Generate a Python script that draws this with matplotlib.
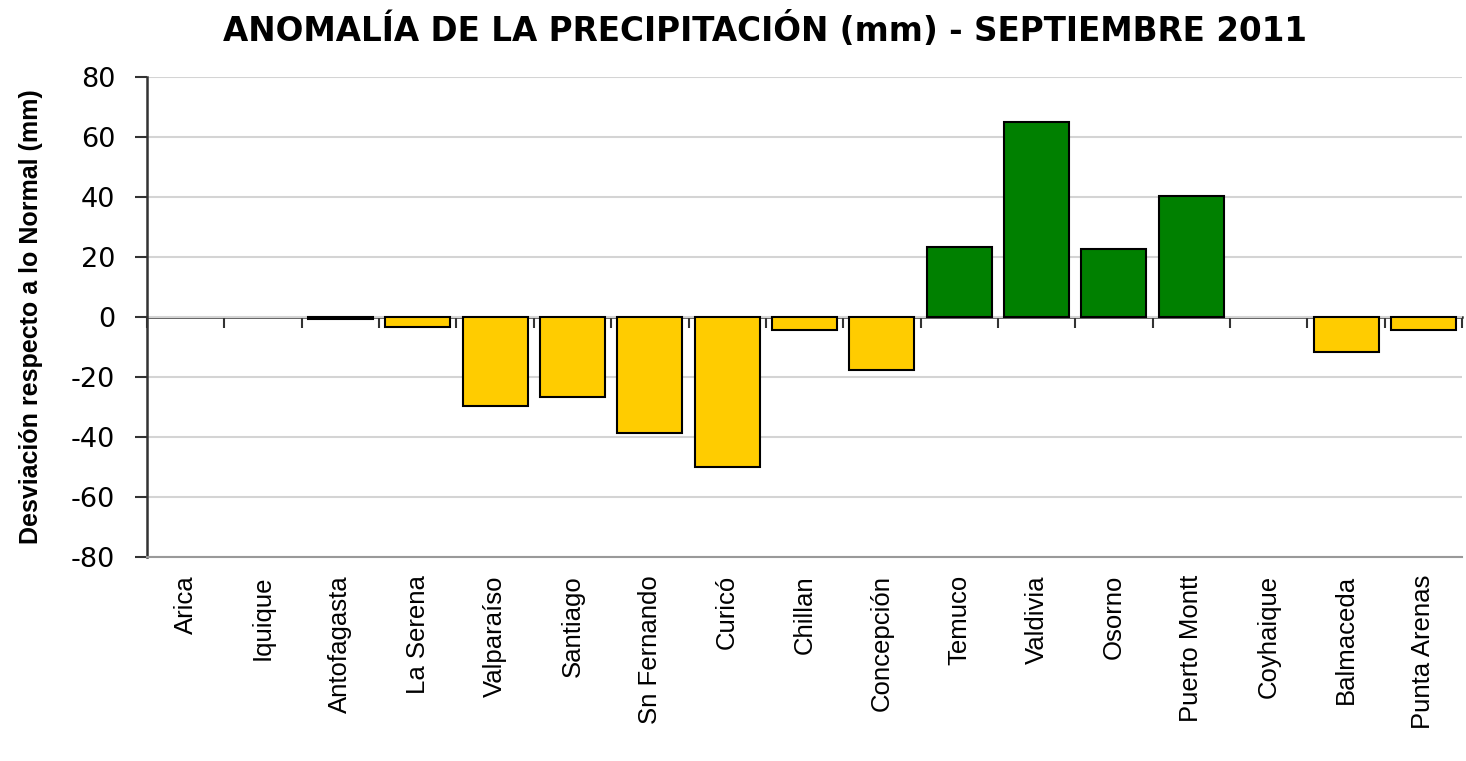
import matplotlib
matplotlib.use("Agg")
import matplotlib.pyplot as plt
import numpy as np

plt.rcParams['font.family'] = ['Liberation Sans', 'DejaVu Sans']
plt.rcParams['axes.unicode_minus'] = False

estaciones = ["Arica", "Iquique", "Antofagasta", "La Serena", "Valparaíso", "Santiago",
              "Sn Fernando", "Curicó", "Chillan", "Concepción", "Temuco", "Valdivia",
              "Osorno", "Puerto Montt", "Coyhaique", "Balmaceda", "Punta Arenas"]
anomalia = [0, 0, -0.7, -3.5, -29.7, -26.7, -38.7, -50.0, -4.3, -17.7,
            23.3, 65.0, 22.7, 40.3, 0, -11.7, -4.3]

amarillo = "#FFCC00"
verde = "#008000"
colores = [verde if v > 0 else amarillo for v in anomalia]
bordes = ["none" if v == 0 else "black" for v in anomalia]

fig = plt.figure(figsize=(14.66, 7.61), dpi=100)
ax = fig.add_axes([0.1003, 0.268, 0.897, 0.631])

x = np.arange(len(estaciones))
ax.bar(x, anomalia, width=0.84, color=colores, edgecolor=bordes, linewidth=1.5, zorder=3)

ax.set_xlim(-0.5, len(estaciones) - 0.5)
ax.set_ylim(-80, 80)
ax.set_yticks(np.arange(-80, 81, 20))
ax.yaxis.grid(True, color="#d4d4d4", linewidth=1.5, zorder=0)
ax.tick_params(axis="y", length=9, width=1.5, color="#333333", direction="out", pad=14)
for lbl in ax.get_yticklabels():
    lbl.set_fontfamily("DejaVu Sans")
    lbl.set_fontsize(19.5)

ax.set_xticks(x)
ax.set_xticklabels(estaciones, rotation=90, fontsize=18.5)
ax.tick_params(axis="x", length=0, pad=13)

for s in ["top", "right"]:
    ax.spines[s].set_visible(False)
ax.spines["left"].set_color("#333333")
ax.spines["left"].set_linewidth(1.8)
ax.spines["bottom"].set_color("#999999")
ax.spines["bottom"].set_linewidth(1.5)

# eje de categorias sobre la linea del cero
sec = ax.secondary_xaxis(0, transform=ax.transData)
sec.set_xticks(np.arange(-0.5, len(estaciones), 1.0))
sec.set_xticklabels([])
sec.tick_params(length=8, width=1.5, color="#333333", direction="out")
sec.spines["bottom"].set_color("#333333")
sec.spines["bottom"].set_linewidth(1.8)

ax.set_ylabel("Desviación respecto a lo Normal (mm)", fontsize=18, fontweight="bold")
ax.yaxis.set_label_coords(-0.079, 0.5)

fig.text(0.522, 0.96, "ANOMALÍA DE LA PRECIPITACIÓN (mm) - SEPTIEMBRE 2011",
         ha="center", va="center", fontsize=23.5, fontweight="bold", family="DejaVu Sans")

fig.savefig("out.png", dpi=100)
